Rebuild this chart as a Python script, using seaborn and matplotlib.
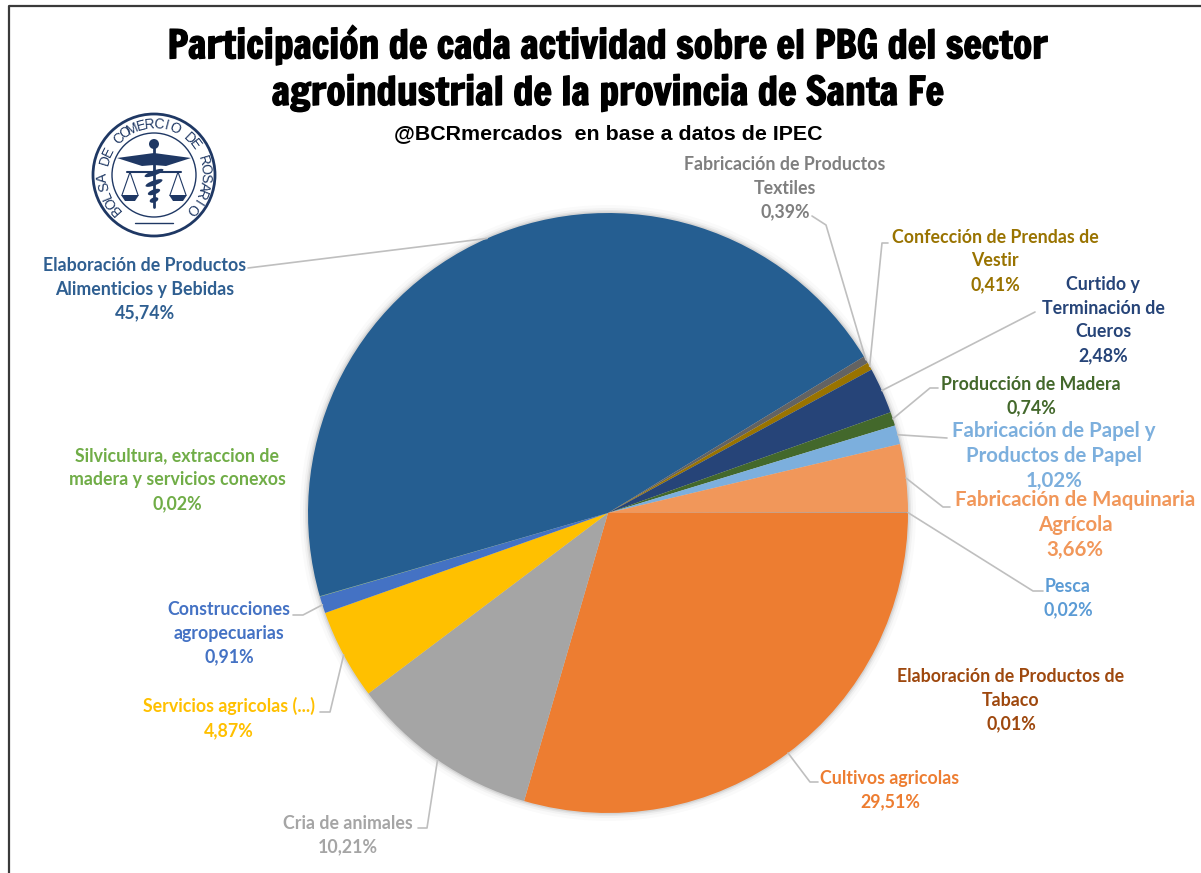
import numpy as np
import seaborn as sns
import matplotlib.pyplot as plt
import matplotlib.patheffects as pe
from matplotlib.patches import Circle, Polygon, Ellipse

sns.set_theme(style="white")
plt.rcParams["font.family"] = ["Lato", "DejaVu Sans"]

activities = [
    "Cultivos agricolas", "Cria de animales", "Servicios agricolas (...)",
    "Construcciones\nagropecuarias",
    "Silvicultura, extraccion de\nmadera y servicios conexos",
    "Elaboración de Productos\nAlimenticios y Bebidas",
    "Fabricación de Productos\nTextiles", "Confección de Prendas de\nVestir",
    "Curtido y\nTerminación de\nCueros", "Producción de Madera",
    "Fabricación de Papel y\nProductos de Papel",
    "Fabricación de Maquinaria\nAgrícola", "Pesca",
    "Elaboración de Productos de\nTabaco",
]
shares = [29.51, 10.21, 4.87, 0.91, 0.02, 45.74, 0.39, 0.41, 2.48, 0.74, 1.02, 3.66, 0.02, 0.01]
slice_colors = ["#ED7D31", "#A5A5A5", "#FFC000", "#4472C4", "#70AD47", "#255E91", "#636363",
                "#997300", "#264478", "#43682B", "#7CAFDD", "#F1975A", "#7CAFDD", "#9E480E"]
label_colors = ["#ED7D31", "#A5A5A5", "#FFC000", "#4472C4", "#70AD47", "#2F5F91", "#7F7F7F",
                "#997300", "#264478", "#43682B", "#7CAFDD", "#F1975A", "#5B9BD5", "#9E480E"]
label_sizes = [12.8, 12.8, 12.8, 12.8, 12.8, 12.8, 12.8, 12.8, 12.8, 12.8, 14.7, 14.7, 12.8, 12.8]

# label centres and leader elbows, in picture pixels
label_xy = [(890, 790), (348, 835), (229, 718), (229, 633), (177, 480), (145, 289), (785, 188),
            (995, 261), (1103, 320), (1031, 396), (1054, 456), (1075, 525), (1068, 598), (1011, 700)]
leader_pts = [
    [(810, 782), (818, 782)], [(427, 828), (418, 828)], [(330, 712), (320, 712)],
    [(303, 615), (293, 615)], None, [(248, 268)], [(826, 225), (812, 216)],
    [(882, 243), (888, 243)], [(1035, 312)], [(930, 388), (938, 388)],
    [(947, 438)], [(943, 507), (950, 507)], [(1033, 591), (1043, 591)], None,
]

W, H = 1201, 873
cx, cy, radius = 608, 513, 300


def py(y):
    return H - y


fig = plt.figure(figsize=(W / 100, H / 100), dpi=100, facecolor="white")
ax = fig.add_axes([0, 0, 1, 1])

# soft shadow round the pie
for grow, alpha in [(8, 0.02), (5, 0.03), (3, 0.05), (1.5, 0.07)]:
    ax.add_patch(Circle((cx, py(cy)), radius + grow, color="black", alpha=alpha, lw=0, zorder=0))

wedges, _ = ax.pie(shares, colors=sns.color_palette(slice_colors), startangle=0, counterclock=False,
                   center=(cx, py(cy)), radius=radius, wedgeprops={"linewidth": 0})
ax.set_xlim(0, W)
ax.set_ylim(0, H)
ax.set_aspect("equal")
ax.axis("off")

# leaders start on the rim at each slice's middle angle
total = sum(shares)
cum = np.cumsum(shares)
mids = (cum - np.array(shares) / 2) / total * 2 * np.pi
for mid, pts in zip(mids, leader_pts):
    if pts is None:
        continue
    xs = [cx + radius * np.cos(mid)] + [p[0] for p in pts]
    ys = [py(cy + radius * np.sin(mid))] + [py(p[1]) for p in pts]
    ax.plot(xs, ys, color="#BFBFBF", lw=1.2, zorder=1)

for name, share, col, size, (x, y) in zip(activities, shares, label_colors, label_sizes, label_xy):
    txt = name + "\n" + f"{share:.2f}%".replace(".", ",")
    ax.text(x, py(y), txt, color=col, fontsize=size, fontweight="bold", ha="center", va="center",
            linespacing=1.49 * 12.8 / size, zorder=5)

# titles
for line, y in [("Participación de cada actividad sobre el PBG del sector", 45),
                ("agroindustrial de la provincia de Santa Fe", 93)]:
    ax.text(608, py(y), line, color="black", fontsize=28, ha="center", va="center",
            family=["Francois One", "Oswald", "Liberation Sans", "DejaVu Sans"],
            path_effects=[pe.withStroke(linewidth=1.0, foreground="black")])
ax.text(608, py(134), "@BCRmercados  en base a datos de IPEC", color="black", fontsize=15.4, fontweight="bold",
        ha="center", va="center", family=["Liberation Sans", "DejaVu Sans"])

# logo
navy = "#1F3864"
lx, ly = 154, 175
ax.add_patch(Circle((lx, py(ly)), 61, fill=False, ec=navy, lw=2))
ax.add_patch(Circle((lx, py(ly)), 42, fill=False, ec=navy, lw=1))
seal = "BOLSA DE COMERCIO DE ROSARIO"
angles = np.linspace(222, -42, len(seal))
for ch, a in zip(seal, angles):
    r = np.deg2rad(a)
    ax.text(lx + 51 * np.cos(r), py(ly) + 51 * np.sin(r), ch, color=navy, fontsize=10,
            rotation=a - 90, rotation_mode="anchor", ha="center", va="center",
            family=["Liberation Sans Narrow", "Liberation Sans", "DejaVu Sans"])
# staff and wings
ax.plot([lx, lx], [py(ly - 30), py(ly + 32)], color=navy, lw=2)
ax.add_patch(Circle((lx, py(ly - 31)), 5, color=navy, lw=0))
for side in (-1, 1):
    ax.add_patch(Polygon([(lx, py(ly - 22)), (lx + side * 37, py(ly - 17)), (lx + side * 12, py(ly - 9)),
                          (lx, py(ly - 10))], color=navy, lw=0))
    # scale arm and pan
    ax.plot([lx, lx + side * 27], [py(ly - 3), py(ly - 3)], color=navy, lw=1.5)
    px = lx + side * 24
    ax.plot([px - 8, px, px + 8], [py(ly + 20), py(ly - 3), py(ly + 20)], color=navy, lw=0.8)
    ax.add_patch(Polygon([(px - 9, py(ly + 20)), (px + 9, py(ly + 20)), (px + 5, py(ly + 26)), (px - 5, py(ly + 26))],
                         color=navy, lw=0))
# serpent coils
for dy, w in [(-2, 20), (8, 18), (17, 13), (25, 9)]:
    ax.add_patch(Ellipse((lx, py(ly + dy)), w, 5, angle=20, color=navy, lw=0))
ax.plot([lx - 19, lx + 19], [py(ly + 48), py(ly + 48)], color=navy, lw=1)

# frame of the original screenshot
ax.plot([9, 9, W], [0, py(6), py(6)], color="#3A3A3A", lw=1.6)

fig.savefig("out.png", dpi=100)
